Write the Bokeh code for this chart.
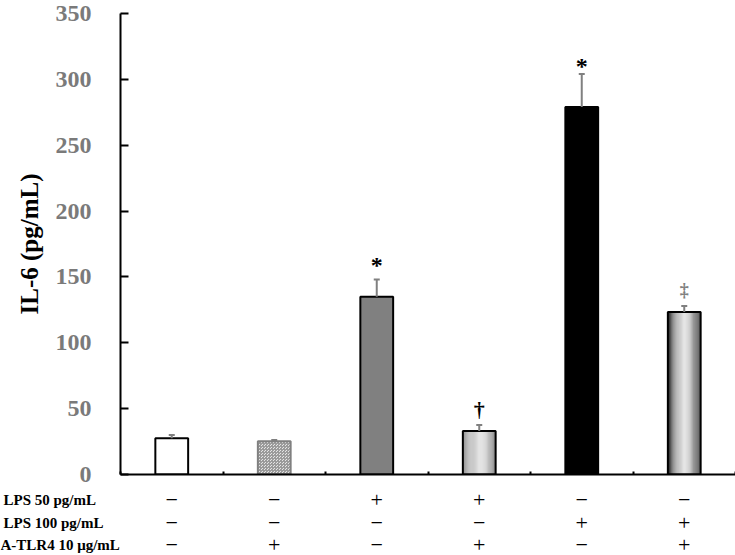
from bokeh.plotting import figure
from bokeh.models import Range1d, FixedTicker, ColumnDataSource
from bokeh.layouts import column
from bokeh.core.properties import value
from bokeh.embed import file_html
from bokeh.resources import INLINE

# ---------------- data ----------------
groups = ["Control", "A-TLR4", "LPS 50", "LPS 50 + A-TLR4", "LPS 100", "LPS 100 + A-TLR4"]
il6 = [27.5, 25.2, 135.0, 33.0, 279.0, 123.4]
il6_err = [2.5, 1.0, 13.0, 4.6, 25.0, 4.6]
sig_marks = ["", "", "*", "†", "*", "‡"]
sig_y = [0, 0, 159, 49, 310, 140]
y_ticks = [0, 50, 100, 150, 200, 250, 300, 350]
row_labels = ["LPS 50 pg/mL", "LPS 100 pg/mL", "A-TLR4 10 μg/mL"]
lps50 = ["−", "−", "+", "+", "−", "−"]
lps100 = ["−", "−", "−", "−", "+", "+"]
atlr4 = ["−", "+", "−", "+", "−", "+"]

# ---------------- layout / style ----------------
W = 735
LEFT = 120
MAIN_H = 486
TABLE_H = 69
BAR_W = 0.32
FONT = "Liberation Serif"

n = len(groups)
xc = [i + 0.5 for i in range(n)]

p = figure(width=W, height=MAIN_H, output_backend="svg", toolbar_location=None,
           x_range=Range1d(0, n), y_range=Range1d(0, 350),
           min_border_left=LEFT, min_border_right=0, min_border_top=13, min_border_bottom=12)
p.frame_align = False
p.xgrid.visible = False
p.ygrid.visible = False
p.outline_line_color = None
p.background_fill_color = "white"
p.border_fill_color = "white"

# plain filled bars
plain_idx = [0, 2, 4]
plain_fill = {0: "white", 2: "#808080", 4: "black"}
p.vbar(x=[xc[i] for i in plain_idx], top=[il6[i] for i in plain_idx], width=BAR_W,
       fill_color=[plain_fill[i] for i in plain_idx], line_color=None)

# hatched bar
p.vbar(x=[xc[1]], top=[il6[1]], width=BAR_W, fill_color="#e4e4e4",
       hatch_pattern="criss_cross", hatch_color="#9a9a9a", hatch_scale=3, hatch_weight=1,
       line_color="#808080", line_width=2)

# gradient bars (drawn as thin strips)
def interp(stops, t):
    for (t0, v0), (t1, v1) in zip(stops[:-1], stops[1:]):
        if t0 <= t <= t1:
            return v0 + (v1 - v0) * (t - t0) / (t1 - t0)
    return stops[-1][1]

grad_profiles = {
    3: [(0, 150), (0.2, 185), (0.5, 225), (0.7, 215), (0.88, 160), (1, 110)],
    5: [(0, 35), (0.12, 100), (0.3, 190), (0.5, 228), (0.68, 200), (0.85, 120), (1, 60)],
}
NS = 30
for i, prof in grad_profiles.items():
    lefts, rights, tops, cols = [], [], [], []
    for k in range(NS):
        tt = (k + 0.5) / NS
        g = int(round(interp(prof, tt)))
        lefts.append(xc[i] - BAR_W / 2 + k * BAR_W / NS)
        rights.append(xc[i] - BAR_W / 2 + (k + 1) * BAR_W / NS + 0.002)
        tops.append(il6[i])
        cols.append("#%02x%02x%02x" % (g, g, g))
    p.quad(left=lefts, right=rights, bottom=0, top=tops, fill_color=cols, line_color=None)

# outlines
out_idx = [0, 2, 3, 4, 5]
p.vbar(x=[xc[i] for i in out_idx], top=[il6[i] for i in out_idx], width=BAR_W,
       fill_alpha=0, line_color="black", line_width=2)

# error bars
tops_err = [v + e for v, e in zip(il6, il6_err)]
p.segment(x0=xc, y0=il6, x1=xc, y1=tops_err, line_color="#808080", line_width=2)
p.scatter(x=xc, y=tops_err, marker="dash", size=6, line_color="#808080", line_width=2)

# significance marks
keep = [i for i in range(n) if sig_marks[i]]
sig_src = ColumnDataSource(dict(
    x=[xc[i] for i in keep],
    y=[sig_y[i] for i in keep],
    t=[sig_marks[i] for i in keep],
    c=["#808080" if sig_marks[i] == "‡" else "black" for i in keep],
    s=["18px" if sig_marks[i] == "‡" else ("22px" if sig_marks[i] == "†" else "24px") for i in keep],
))
p.text(x="x", y="y", text="t", source=sig_src, text_color="c", text_font_size="s",
       text_font=value(FONT), text_font_style="bold", text_align="center",
       text_baseline="middle")

# axes
p.yaxis.ticker = FixedTicker(ticks=y_ticks)
p.yaxis.minor_tick_line_color = None
p.yaxis.major_tick_in = 8
p.yaxis.major_tick_out = 0
p.yaxis.major_tick_line_width = 2
p.yaxis.axis_line_width = 2
p.yaxis.major_label_standoff = 29
p.yaxis.major_label_text_font = FONT
p.yaxis.major_label_text_font_style = "bold"
p.yaxis.major_label_text_font_size = "24px"
p.yaxis.major_label_text_color = "#7a7a7a"
p.yaxis.axis_label = "IL-6 (pg/mL)"
p.yaxis.axis_label_text_font = FONT
p.yaxis.axis_label_text_font_style = "bold"
p.yaxis.axis_label_text_font_size = "25px"
p.yaxis.axis_label_text_color = "black"
p.yaxis.axis_label_standoff = 10

p.xaxis.ticker = FixedTicker(ticks=list(range(n + 1)))
p.xaxis.minor_tick_line_color = None
p.xaxis.major_tick_in = 3
p.xaxis.major_tick_out = 0
p.xaxis.major_tick_line_width = 2
p.xaxis.axis_line_width = 2
p.xaxis.major_label_text_color = None
p.xaxis.major_label_standoff = 0

# ---------------- treatment table ----------------
px_per_unit = (W - LEFT) / n
x_start = -LEFT / px_per_unit
t = figure(width=W, height=TABLE_H, output_backend="svg", toolbar_location=None,
           x_range=Range1d(x_start, n), y_range=Range1d(TABLE_H, 0),
           x_axis_location=None, y_axis_location=None,
           min_border_left=0, min_border_right=0, min_border_top=0, min_border_bottom=0)
t.frame_align = False
t.xgrid.visible = False
t.ygrid.visible = False
t.outline_line_color = None

row_y = [13, 36, 58]
row_x = [3, 3, 0]
t.text(x=[x_start + rx / px_per_unit for rx in row_x], y=row_y, text=row_labels,
       text_font=value(FONT), text_font_style="bold", text_font_size="15px",
       text_align="left", text_baseline="middle", text_color="black")
sx, sy, st = [], [], []
for r, row in enumerate([lps50, lps100, atlr4]):
    for i, s in enumerate(row):
        sx.append(xc[i])
        sy.append(row_y[r])
        st.append(s)
t.text(x=sx, y=sy, text=st, text_font=value(FONT), text_font_size="22px",
       text_align="center", text_baseline="middle", text_color="black")

layout = column(p, t, spacing=0)
open("out.html", "w").write(file_html(layout, INLINE))
